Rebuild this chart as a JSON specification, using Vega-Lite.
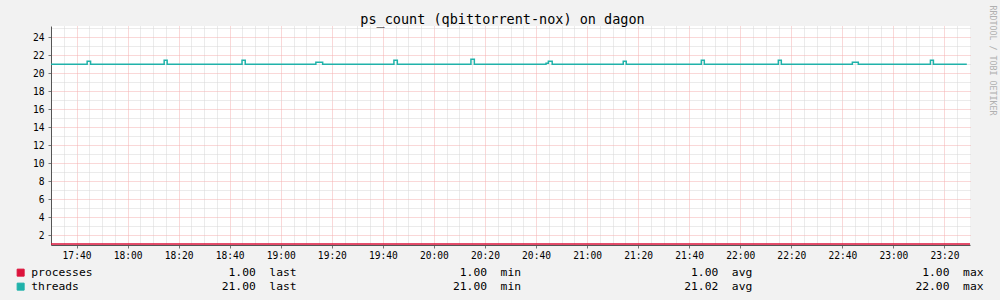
{
  "$schema": "https://vega.github.io/schema/vega-lite/v6.json",
  "width": 919,
  "height": 219,
  "autosize": {"type": "none"},
  "padding": {"left": 51, "top": 26, "right": 30, "bottom": 55},
  "background": "#f2f2f2",
  "view": {"fill": "white", "stroke": null},
  "title": {
    "text": "ps_count (qbittorrent-nox) on dagon",
    "font": "DejaVu Sans Mono",
    "fontSize": 13.5,
    "fontWeight": "normal",
    "color": "#000000",
    "anchor": "middle",
    "frame": "group",
    "baseline": "alphabetic",
    "offset": 3,
    "dy": 35,
    "dx": -8
  },
  "config": {
    "axis": {
      "labelFont": "DejaVu Sans Mono",
      "labelFontSize": 9.6,
      "labelColor": "#000000",
      "domainColor": "#555555",
      "tickColor": "#777777",
      "gridDash": [1, 1],
      "gridWidth": 1,
      "title": null
    }
  },
  "resolve": {"axis": {"x": "independent", "y": "independent"}},
  "layer": [
    {
      "data": {
        "values": [
          {"time": "2012-01-01T17:30:00", "value": 1, "series": "processes"},
          {"time": "2012-01-01T23:30:00", "value": 1, "series": "processes"},
          {"time": "2012-01-01T17:30:00", "value": 21, "series": "threads"},
          {"time": "2012-01-01T17:44:10", "value": 21.33, "series": "threads"},
          {"time": "2012-01-01T17:45:30", "value": 21, "series": "threads"},
          {"time": "2012-01-01T18:14:20", "value": 21.44, "series": "threads"},
          {"time": "2012-01-01T18:15:30", "value": 21, "series": "threads"},
          {"time": "2012-01-01T18:44:50", "value": 21.44, "series": "threads"},
          {"time": "2012-01-01T18:46:05", "value": 21, "series": "threads"},
          {"time": "2012-01-01T19:13:45", "value": 21.22, "series": "threads"},
          {"time": "2012-01-01T19:16:25", "value": 21, "series": "threads"},
          {"time": "2012-01-01T19:44:20", "value": 21.44, "series": "threads"},
          {"time": "2012-01-01T19:45:40", "value": 21, "series": "threads"},
          {"time": "2012-01-01T20:14:30", "value": 21.56, "series": "threads"},
          {"time": "2012-01-01T20:15:50", "value": 21, "series": "threads"},
          {"time": "2012-01-01T20:43:55", "value": 21.11, "series": "threads"},
          {"time": "2012-01-01T20:44:50", "value": 21.33, "series": "threads"},
          {"time": "2012-01-01T20:46:20", "value": 21, "series": "threads"},
          {"time": "2012-01-01T21:14:10", "value": 21.33, "series": "threads"},
          {"time": "2012-01-01T21:15:20", "value": 21, "series": "threads"},
          {"time": "2012-01-01T21:44:45", "value": 21.44, "series": "threads"},
          {"time": "2012-01-01T21:45:55", "value": 21, "series": "threads"},
          {"time": "2012-01-01T22:14:55", "value": 21.44, "series": "threads"},
          {"time": "2012-01-01T22:16:05", "value": 21, "series": "threads"},
          {"time": "2012-01-01T22:43:55", "value": 21.22, "series": "threads"},
          {"time": "2012-01-01T22:46:15", "value": 21, "series": "threads"},
          {"time": "2012-01-01T23:14:30", "value": 21.44, "series": "threads"},
          {"time": "2012-01-01T23:15:40", "value": 21, "series": "threads"},
          {"time": "2012-01-01T23:28:45", "value": 21, "series": "threads"}
        ]
      },
      "mark": {"type": "line", "interpolate": "step-after", "strokeWidth": 1.5},
      "encoding": {
        "x": {
          "field": "time",
          "type": "temporal",
          "scale": {
            "domain": [{"hours": 17, "minutes": 30}, {"hours": 23, "minutes": 30}],
            "nice": false
          },
          "axis": {
            "orient": "bottom",
            "values": [
              {"hours": 17, "minutes": 40}, {"hours": 18, "minutes": 0}, {"hours": 18, "minutes": 20}, {"hours": 18, "minutes": 40},
              {"hours": 19, "minutes": 0}, {"hours": 19, "minutes": 20}, {"hours": 19, "minutes": 40},
              {"hours": 20, "minutes": 0}, {"hours": 20, "minutes": 20}, {"hours": 20, "minutes": 40},
              {"hours": 21, "minutes": 0}, {"hours": 21, "minutes": 20}, {"hours": 21, "minutes": 40},
              {"hours": 22, "minutes": 0}, {"hours": 22, "minutes": 20}, {"hours": 22, "minutes": 40},
              {"hours": 23, "minutes": 0}, {"hours": 23, "minutes": 20}
            ],
            "format": "%H:%M",
            "labelOverlap": false,
            "labelFlush": false,
            "labelBound": false,
            "labelPadding": 2,
            "tickSize": 3,
            "grid": true,
            "gridColor": "#f5b0b0"
          }
        },
        "y": {
          "field": "value",
          "type": "quantitative",
          "scale": {"domain": [0.89, 25.26], "nice": false, "zero": false},
          "axis": {
            "orient": "left",
            "values": [2, 4, 6, 8, 10, 12, 14, 16, 18, 20, 22, 24],
            "labelOverlap": false,
            "labelBound": false,
            "labelPadding": 4,
            "tickSize": 3,
            "grid": true,
            "gridColor": "#f5b0b0"
          }
        },
        "color": {
          "field": "series",
          "type": "nominal",
          "scale": {"domain": ["processes", "threads"], "range": ["#dc143c", "#20b2aa"]},
          "legend": {
            "orient": "none",
            "legendX": -36,
            "legendY": 241,
            "title": null,
            "padding": 0,
            "symbolType": "square",
            "symbolSize": 49,
            "symbolStrokeWidth": 1,
            "labelFont": "DejaVu Sans Mono",
            "labelFontSize": 11.3,
            "labelColor": "#000000",
            "labelLimit": 0,
            "labelOffset": 5,
            "rowPadding": 1,
            "labelExpr": "datum.label == 'processes' ? 'processes' + pad('',20,'\u00a0') + '1.00' + pad('',2,'\u00a0') + 'last' + pad('',24,'\u00a0') + '1.00' + pad('',2,'\u00a0') + 'min' + pad('',25,'\u00a0') + '1.00' + pad('',2,'\u00a0') + 'avg' + pad('',25,'\u00a0') + '1.00' + pad('',2,'\u00a0') + 'max' : 'threads' + pad('',21,'\u00a0') + '21.00' + pad('',2,'\u00a0') + 'last' + pad('',23,'\u00a0') + '21.00' + pad('',2,'\u00a0') + 'min' + pad('',24,'\u00a0') + '21.02' + pad('',2,'\u00a0') + 'avg' + pad('',24,'\u00a0') + '22.00' + pad('',2,'\u00a0') + 'max'",
            "encode": {
              "symbols": {
                "update": {
                  "fill": {"scale": "color", "field": "value"},
                  "stroke": {"value": "#000000"},
                  "strokeWidth": {"value": 1},
                  "opacity": {"value": 1}
                }
              }
            }
          }
        }
      }
    },
    {
      "mark": {"type": "point", "shape": "triangle-up", "filled": true, "color": "#7f0000", "size": 28, "opacity": 1},
      "encoding": {
        "x": {
          "datum": {"hours": 17, "minutes": 30},
          "type": "temporal",
          "axis": {
            "orient": "top",
            "values": [
              {"hours": 17, "minutes": 35}, {"hours": 17, "minutes": 45}, {"hours": 17, "minutes": 50}, {"hours": 17, "minutes": 55},
              {"hours": 18, "minutes": 5}, {"hours": 18, "minutes": 10}, {"hours": 18, "minutes": 15}, {"hours": 18, "minutes": 25}, {"hours": 18, "minutes": 30}, {"hours": 18, "minutes": 35}, {"hours": 18, "minutes": 45}, {"hours": 18, "minutes": 50}, {"hours": 18, "minutes": 55},
              {"hours": 19, "minutes": 5}, {"hours": 19, "minutes": 10}, {"hours": 19, "minutes": 15}, {"hours": 19, "minutes": 25}, {"hours": 19, "minutes": 30}, {"hours": 19, "minutes": 35}, {"hours": 19, "minutes": 45}, {"hours": 19, "minutes": 50}, {"hours": 19, "minutes": 55},
              {"hours": 20, "minutes": 5}, {"hours": 20, "minutes": 10}, {"hours": 20, "minutes": 15}, {"hours": 20, "minutes": 25}, {"hours": 20, "minutes": 30}, {"hours": 20, "minutes": 35}, {"hours": 20, "minutes": 45}, {"hours": 20, "minutes": 50}, {"hours": 20, "minutes": 55},
              {"hours": 21, "minutes": 5}, {"hours": 21, "minutes": 10}, {"hours": 21, "minutes": 15}, {"hours": 21, "minutes": 25}, {"hours": 21, "minutes": 30}, {"hours": 21, "minutes": 35}, {"hours": 21, "minutes": 45}, {"hours": 21, "minutes": 50}, {"hours": 21, "minutes": 55},
              {"hours": 22, "minutes": 5}, {"hours": 22, "minutes": 10}, {"hours": 22, "minutes": 15}, {"hours": 22, "minutes": 25}, {"hours": 22, "minutes": 30}, {"hours": 22, "minutes": 35}, {"hours": 22, "minutes": 45}, {"hours": 22, "minutes": 50}, {"hours": 22, "minutes": 55},
              {"hours": 23, "minutes": 5}, {"hours": 23, "minutes": 10}, {"hours": 23, "minutes": 15}, {"hours": 23, "minutes": 25}
            ],
            "grid": true,
            "gridColor": "#d6d6d6",
            "labels": false,
            "ticks": false,
            "domain": false
          }
        },
        "y": {
          "datum": 25.6,
          "type": "quantitative",
          "axis": {
            "orient": "right",
            "values": [1, 3, 5, 7, 9, 11, 13, 15, 17, 19, 21, 23, 25],
            "grid": true,
            "gridColor": "#d6d6d6",
            "labels": false,
            "ticks": false,
            "domain": false,
            "title": "RRDTOOL / TOBI OETIKER",
            "titleAngle": 90,
            "titleFont": "DejaVu Sans Mono",
            "titleFontSize": 8.3,
            "titleFontWeight": "normal",
            "titleColor": "#b0b0b0",
            "titleX": 21,
            "titleY": -21,
            "titleAlign": "left",
            "titleBaseline": "middle"
          }
        }
      }
    },
    {
      "mark": {"type": "point", "shape": "triangle-right", "filled": true, "color": "#7f0000", "size": 28, "opacity": 1},
      "encoding": {
        "x": {"datum": {"hours": 23, "minutes": 31, "seconds": 30}, "type": "temporal", "axis": null},
        "y": {"datum": 0.89, "type": "quantitative", "axis": null}
      }
    }
  ]
}
